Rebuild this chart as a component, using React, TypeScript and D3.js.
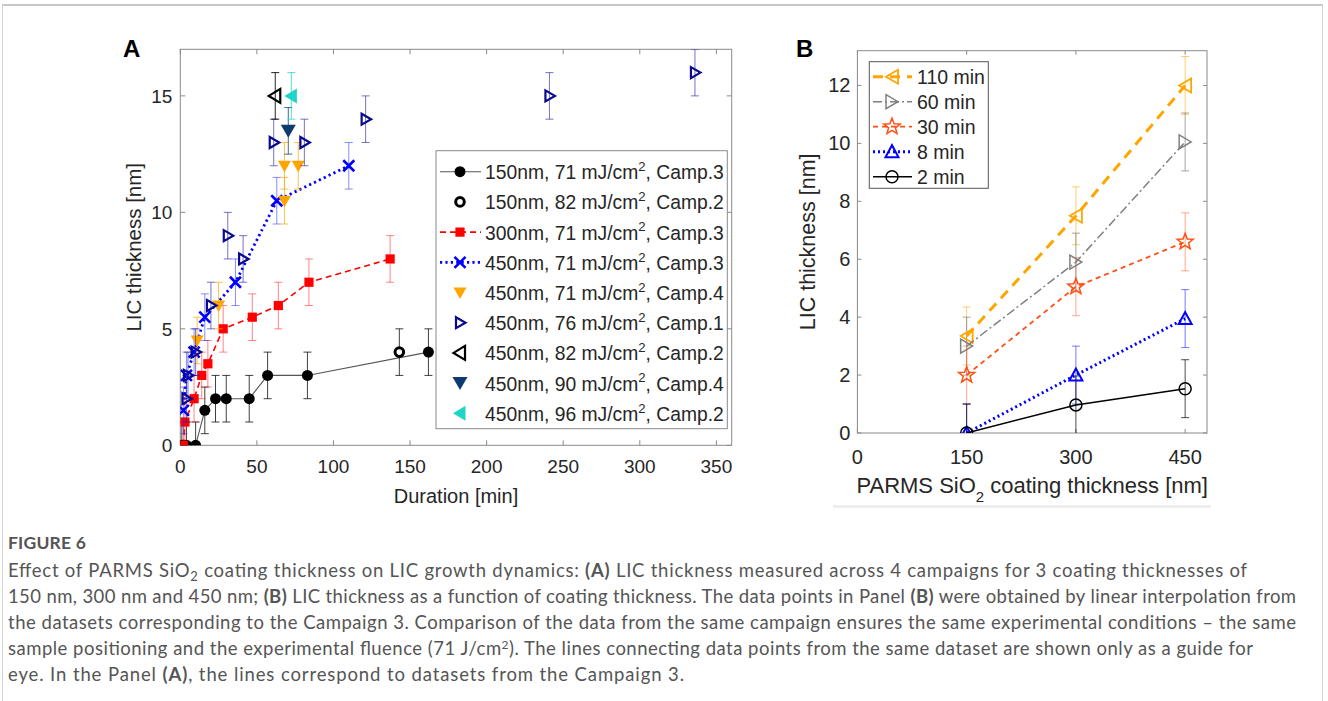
import React from 'react';
import * as d3 from 'd3';

// ---------- Panel A data ----------
const durationTicks = [0, 50, 100, 150, 200, 250, 300, 350];
const licTicksA = [0, 5, 10, 15];

const dur150c3 = [1, 4, 10, 16, 23, 30, 45, 57, 83, 162];
const lic150c3 = [0, 0, 0, 1.5, 2, 2, 2, 3, 3, 4];
const dur150c2 = [143];
const lic150c2 = [4];
const dur300c3 = [2, 3, 9, 14, 18, 28, 47, 64, 84, 137];
const lic300c3 = [0, 1, 2, 3, 3.5, 5, 5.5, 6, 7, 8];
const dur450c3 = [2, 4, 9, 16, 36, 63, 110];
const lic450c3 = [1.5, 3, 4, 5.5, 7, 10.5, 12];
const dur450c4 = [11, 25, 68, 68, 77];
const lic450c4 = [4.5, 6, 10.5, 12, 12];
const dur450c1 = [4, 5, 10, 20, 31, 41, 61, 81, 121, 241, 336];
const lic450c1 = [2, 3, 4, 6, 9, 8, 13, 13, 14, 15, 16];
const dur450c2a = [62];
const lic450c2a = [15];
const dur450c4b = [70.5];
const lic450c4b = [13.5];
const dur450c2b = [72.5];
const lic450c2b = [15];
const errA = 1;

const legendA = [
  '150nm, 71 mJ/cm|2|, Camp.3',
  '150nm, 82 mJ/cm|2|, Camp.2',
  '300nm, 71 mJ/cm|2|, Camp.3',
  '450nm, 71 mJ/cm|2|, Camp.3',
  '450nm, 71 mJ/cm|2|, Camp.4',
  '450nm, 76 mJ/cm|2|, Camp.1',
  '450nm, 82 mJ/cm|2|, Camp.2',
  '450nm, 90 mJ/cm|2|, Camp.4',
  '450nm, 96 mJ/cm|2|, Camp.2',
];

// ---------- Panel B data ----------
const coatingTicks = [0, 150, 300, 450];
const licTicksB = [0, 2, 4, 6, 8, 10, 12];
const coating = [150, 300, 450];
const lic110 = [3.35, 7.5, 12.0];
const lic60 = [3.0, 5.9, 10.05];
const lic30 = [2.0, 5.05, 6.6];
const lic8 = [0, 2.0, 3.95];
const lic2 = [0, 0.97, 1.53];
const errB = 1;
const legendB = ['110 min', '60 min', '30 min', '8 min', '2 min'];

const FONT = "'Liberation Sans', Arial, Helvetica, sans-serif";
const AX = '#8a8a8a';
const TXT = '#262626';

function marker(type: string, cx: number, cy: number, color: string, key: string) {
  const t = `translate(${cx},${cy})`;
  switch (type) {
    case 'dot':
      return <circle key={key} cx={cx} cy={cy} r={5.5} fill={color} />;
    case 'ring':
      return <circle key={key} cx={cx} cy={cy} r={4.3} fill="#fff" stroke={color} strokeWidth={3} />;
    case 'square':
      return <rect key={key} x={cx - 4.6} y={cy - 4.6} width={9.2} height={9.2} fill={color} />;
    case 'x':
      return <path key={key} transform={t} d="M-5.5,-5.5L5.5,5.5M-5.5,5.5L5.5,-5.5" stroke={color} strokeWidth={2.6} fill="none" />;
    case 'triDown':
      return <path key={key} transform={t} d="M-6.5,-5L6.5,-5L0,6.5Z" fill={color} />;
    case 'triDownBig':
      return <path key={key} transform={t} d="M-7.5,-6L7.5,-6L0,7Z" fill={color} />;
    case 'triRightOpen':
      return <path key={key} transform={t} d="M-4,-5.5L5.5,0L-4,5.5Z" fill="none" stroke={color} strokeWidth={2.2} />;
    case 'triLeftOpen':
      return <path key={key} transform={t} d="M5,-7L-6.5,0L5,7Z" fill="none" stroke={color} strokeWidth={2.2} />;
    case 'triLeftFill':
      return <path key={key} transform={t} d="M5.5,-7.5L-7,0L5.5,7.5Z" fill={color} />;
    case 'bTriLeft':
      return <path key={key} transform={t} d="M6,-7L-6,0L6,7Z" fill="none" stroke={color} strokeWidth={1.8} />;
    case 'bTriRight':
      return <path key={key} transform={t} d="M-6,-7L6,0L-6,7Z" fill="none" stroke={color} strokeWidth={1.5} />;
    case 'bTriUp':
      return <path key={key} transform={t} d="M-6.5,5.5L6.5,5.5L0,-6.5Z" fill="none" stroke={color} strokeWidth={2} />;
    case 'bCircle':
      return <circle key={key} cx={cx} cy={cy} r={6} fill="none" stroke={color} strokeWidth={1.5} />;
    case 'bStar': {
      const pts: string[] = [];
      for (let i = 0; i < 10; i++) {
        const r = i % 2 === 0 ? 8.5 : 3.6;
        const a = -Math.PI / 2 + (i * Math.PI) / 5;
        pts.push(`${(r * Math.cos(a)).toFixed(2)},${(r * Math.sin(a)).toFixed(2)}`);
      }
      return <path key={key} transform={t} d={`M${pts.join('L')}Z`} fill="none" stroke={color} strokeWidth={1.5} />;
    }
    default:
      return null;
  }
}

function errBars(xs: number[], ys: number[], err: number, xs_: any, ys_: any, color: string, op: number, key: string, cap = 4, sw = 1) {
  return (
    <g key={key} stroke={color} strokeOpacity={op} strokeWidth={sw} fill="none">
      {xs.map((x, i) => {
        const px = xs_(x);
        const top = ys_(ys[i] + err);
        const bot = ys_(ys[i] - err);
        return (
          <g key={i}>
            <line x1={px} x2={px} y1={top} y2={bot} />
            <line x1={px - cap} x2={px + cap} y1={top} y2={top} />
            <line x1={px - cap} x2={px + cap} y1={bot} y2={bot} />
          </g>
        );
      })}
    </g>
  );
}

function supText(s: string) {
  const parts = s.split('|');
  return [
    <tspan key="a">{parts[0]}</tspan>,
    <tspan key="b" fontSize="0.68em" dy="-0.62em">{parts[1]}</tspan>,
    <tspan key="c" dy="0.42em">{parts[2]}</tspan>,
  ];
}

export default function App() {
  const xA = d3.scaleLinear().domain([0, 360]).range([180.3, 731.7]);
  const yA = d3.scaleLinear().domain([0, 17]).range([445.3, 49.3]);
  const xB = d3.scaleLinear().domain([0, 480]).range([857.4, 1207]);
  const yB = d3.scaleLinear().domain([0, 13.2]).range([433, 50.7]);

  const lineA = (xs: number[], ys: number[]) =>
    d3.line<number>().x((_, i) => xA(xs[i])).y((d) => yA(d))(ys) || '';
  const lineB = (ys: number[]) =>
    d3.line<number>().x((_, i) => xB(coating[i])).y((d) => yB(d))(ys) || '';

  const [ax0, ax1] = xA.range();
  const [ay0, ay1] = yA.range();
  const [bx0, bx1] = xB.range();
  const [by0, by1] = yB.range();

  const seriesA = [
    { xs: dur150c3, ys: lic150c3, color: '#000', bar: '#000', op: 0.75, m: 'dot' },
    { xs: dur150c2, ys: lic150c2, color: '#000', bar: '#000', op: 0.75, m: 'ring' },
    { xs: dur300c3, ys: lic300c3, color: '#ff0000', bar: '#ff2020', op: 0.55, m: 'square' },
    { xs: dur450c3, ys: lic450c3, color: '#0000ff', bar: '#2a2aff', op: 0.55, m: 'x' },
    { xs: dur450c4, ys: lic450c4, color: '#ffa500', bar: '#ffa500', op: 0.7, m: 'triDown' },
    { xs: dur450c1, ys: lic450c1, color: '#0a0a8c', bar: '#2a2aa8', op: 0.65, m: 'triRightOpen' },
    { xs: dur450c2a, ys: lic450c2a, color: '#000', bar: '#000', op: 0.85, m: 'triLeftOpen' },
    { xs: dur450c4b, ys: lic450c4b, color: '#0d3b70', bar: '#0d3b70', op: 0.75, m: 'triDownBig' },
    { xs: dur450c2b, ys: lic450c2b, color: '#1ed6c8', bar: '#1ed6c8', op: 0.75, m: 'triLeftFill' },
  ];

  const seriesB = [
    { ys: lic110, color: '#ffa500', bar: '#ffb020', op: 0.65, m: 'bTriLeft', w: 3, dash: '10,7' },
    { ys: lic60, color: '#808080', bar: '#808080', op: 0.7, m: 'bTriRight', w: 1.5, dash: '9,3,2,3' },
    { ys: lic30, color: '#ff4f14', bar: '#ff6a3a', op: 0.6, m: 'bStar', w: 1.8, dash: '5,4' },
    { ys: lic8, color: '#0000ff', bar: '#2020ff', op: 0.6, m: 'bTriUp', w: 3, dash: '2,3' },
    { ys: lic2, color: '#000', bar: '#000', op: 0.7, m: 'bCircle', w: 1.5, dash: '' },
  ];

  const legAy = (i: number) => 171.7 + i * 30.2;
  const legBy = (i: number) => 76.7 + i * 25;

  const capFont = "Lato, 'Open Sans', sans-serif";

  return (
    <svg width={1328} height={701} style={{ position: 'absolute', left: 0, top: 0, background: '#fff' }} fontFamily={FONT}>
      <defs>
        <clipPath id="clipA"><rect x={ax0} y={ay1} width={ax1 - ax0} height={ay0 - ay1} /></clipPath>
        <clipPath id="clipB"><rect x={bx0} y={by1} width={bx1 - bx0} height={by0 - by1} /></clipPath>
      </defs>
      <rect x={0} y={0} width={1328} height={701} fill="#fff" />
      <rect x={2.5} y={4.5} width={1320} height={720} fill="none" stroke="#d4d4d4" strokeWidth={1} />
      <line x1={2} x2={1323} y1={5} y2={5} stroke="#c8c8c8" strokeWidth={2} />
      <rect x={833} y={505} width={378} height={3} fill="#eeeeee" />

      {/* ================= Panel A ================= */}
      <text x={123} y={57} fontSize={24} fontWeight="bold" fill="#000">A</text>
      <rect x={ax0} y={ay1} width={ax1 - ax0} height={ay0 - ay1} fill="#fff" stroke={AX} strokeWidth={1} />
      {durationTicks.map((t) => (
        <g key={'xt' + t}>
          <line x1={xA(t)} x2={xA(t)} y1={ay0} y2={ay0 - 5} stroke={AX} />
          <line x1={xA(t)} x2={xA(t)} y1={ay1} y2={ay1 + 5} stroke={AX} />
          <text x={xA(t)} y={ay0 + 28} textAnchor="middle" fontSize={19} fill={TXT}>{t}</text>
        </g>
      ))}
      {licTicksA.map((t) => (
        <g key={'yt' + t}>
          <line x1={ax0} x2={ax0 + 5} y1={yA(t)} y2={yA(t)} stroke={AX} />
          <line x1={ax1} x2={ax1 - 5} y1={yA(t)} y2={yA(t)} stroke={AX} />
          <text x={ax0 - 8} y={yA(t) + 7} textAnchor="end" fontSize={19} fill={TXT}>{t}</text>
        </g>
      ))}
      <text x={(ax0 + ax1) / 2} y={503} textAnchor="middle" fontSize={20} fill={TXT}>Duration [min]</text>
      <text transform={`translate(141,${(ay0 + ay1) / 2}) rotate(-90)`} textAnchor="middle" fontSize={20.5} fill={TXT}>LIC thickness [nm]</text>

      <g clipPath="url(#clipA)">
        <path d={lineA(dur150c3, lic150c3)} fill="none" stroke="#555" strokeWidth={1.1} />
        <path d={lineA(dur300c3, lic300c3)} fill="none" stroke="#ff0000" strokeWidth={1.6} strokeDasharray="6,4" />
        <path d={lineA(dur450c3, lic450c3)} fill="none" stroke="#0000ff" strokeWidth={2.8} strokeDasharray="2.2,3.2" />
        {seriesA.map((s, si) => (
          <g key={'sa' + si}>
            {errBars(s.xs, s.ys, errA, xA, yA, s.bar, s.op, 'eb' + si)}
            {s.xs.map((x, i) => marker(s.m, xA(x), yA(s.ys[i]), s.color, 'm' + si + '_' + i))}
          </g>
        ))}
      </g>

      {/* legend A */}
      <rect x={436} y={150.7} width={291.3} height={278} fill="#fff" stroke={AX} strokeWidth={1} />
      {legendA.map((lab, i) => {
        const y = legAy(i);
        const s = seriesA[i];
        return (
          <g key={'la' + i}>
            {i === 0 && <line x1={440} x2={481} y1={y} y2={y} stroke="#555" strokeWidth={1.1} />}
            {i === 2 && <line x1={440} x2={481} y1={y} y2={y} stroke="#ff0000" strokeWidth={1.6} strokeDasharray="6,4" />}
            {i === 3 && <line x1={440} x2={481} y1={y} y2={y} stroke="#0000ff" strokeWidth={2.8} strokeDasharray="2.2,3.2" />}
            {marker(s.m, 460, y, s.color, 'lm' + i)}
            <text x={485} y={y + 7.5} fontSize={19.3} fill={TXT}>{supText(lab)}</text>
          </g>
        );
      })}

      {/* ================= Panel B ================= */}
      <text x={796} y={57} fontSize={24} fontWeight="bold" fill="#000">B</text>
      <rect x={bx0} y={by1} width={bx1 - bx0} height={by0 - by1} fill="#fff" stroke={AX} strokeWidth={1} />
      {coatingTicks.map((t) => (
        <g key={'bxt' + t}>
          <line x1={xB(t)} x2={xB(t)} y1={by0} y2={by0 - 4} stroke={AX} />
          <line x1={xB(t)} x2={xB(t)} y1={by1} y2={by1 + 4} stroke={AX} />
          <text x={xB(t)} y={by0 + 31} textAnchor="middle" fontSize={20} fill={TXT}>{t}</text>
        </g>
      ))}
      {licTicksB.map((t) => (
        <g key={'byt' + t}>
          <line x1={bx0} x2={bx0 + 4} y1={yB(t)} y2={yB(t)} stroke={AX} />
          <line x1={bx1} x2={bx1 - 4} y1={yB(t)} y2={yB(t)} stroke={AX} />
          <text x={bx0 - 7} y={yB(t) + 7} textAnchor="end" fontSize={20} fill={TXT}>{t}</text>
        </g>
      ))}
      <text x={(bx0 + bx1) / 2} y={493} textAnchor="middle" fontSize={22} fill={TXT}>
        <tspan>PARMS SiO</tspan>
        <tspan fontSize={15} dy={9}>2</tspan>
        <tspan dy={-9}> coating thickness [nm]</tspan>
      </text>
      <text transform={`translate(815,${(by0 + by1) / 2}) rotate(-90)`} textAnchor="middle" fontSize={21.5} fill={TXT}>LIC thickness [nm]</text>

      <g clipPath="url(#clipB)">
        {seriesB.map((s, si) => (
          <g key={'sbe' + si}>
            {errBars(coating, s.ys, errB, xB, yB, s.bar, s.op, 'ebb' + si, 4, 1)}
          </g>
        ))}
        {seriesB.map((s, si) => (
          <g key={'sb' + si}>
            <path d={lineB(s.ys)} fill="none" stroke={s.color} strokeWidth={s.w} strokeDasharray={s.dash || undefined} />
            {coating.map((c, i) => marker(s.m, xB(c), yB(s.ys[i]), s.color, 'bm' + si + '_' + i))}
          </g>
        ))}
      </g>

      {/* legend B */}
      <rect x={869.3} y={61.7} width={119} height={126.6} fill="#fff" stroke="#555" strokeWidth={1} />
      {legendB.map((lab, i) => {
        const y = legBy(i);
        const s = seriesB[i];
        return (
          <g key={'lb' + i}>
            <line x1={873} x2={912} y1={y} y2={y} stroke={s.color} strokeWidth={s.w} strokeDasharray={s.dash || undefined} />
            {marker(s.m, 892, y, s.color, 'lbm' + i)}
            <text x={917} y={y + 7} fontSize={19.5} fill={TXT}>{lab}</text>
          </g>
        );
      })}

      {/* ================= Caption ================= */}
      <g fontFamily={capFont} fill="#555" fontSize={18.5}>
        <text x={8} y={549} fontWeight={700} fontSize={17.5} fill="#555" letterSpacing={0.2}>FIGURE 6</text>
        <text x={8} y={577} textLength={1239} lengthAdjust="spacing">
          Effect of PARMS SiO<tspan fontSize={13} dy={4}>2</tspan><tspan dy={-4}> coating thickness on LIC growth dynamics: </tspan><tspan fontWeight={700}>(A)</tspan> LIC thickness measured across 4 campaigns for 3 coating thicknesses of
        </text>
        <text x={8} y={603} textLength={1288} lengthAdjust="spacing">
          150 nm, 300 nm and 450 nm; <tspan fontWeight={700}>(B)</tspan> LIC thickness as a function of coating thickness. The data points in Panel <tspan fontWeight={700}>(B)</tspan> were obtained by linear interpolation from
        </text>
        <text x={8} y={629} textLength={1288} lengthAdjust="spacing">
          the datasets corresponding to the Campaign 3. Comparison of the data from the same campaign ensures the same experimental conditions – the same
        </text>
        <text x={8} y={655} textLength={1245} lengthAdjust="spacing">
          sample positioning and the experimental fluence (71 J/cm<tspan fontSize={12} dy={-6}>2</tspan><tspan dy={6}>). The lines connecting data points from the same dataset are shown only as a guide for</tspan>
        </text>
        <text x={8} y={681} textLength={676} lengthAdjust="spacing">
          eye. In the Panel <tspan fontWeight={700}>(A)</tspan>, the lines correspond to datasets from the Campaign 3.
        </text>
      </g>
    </svg>
  );
}
